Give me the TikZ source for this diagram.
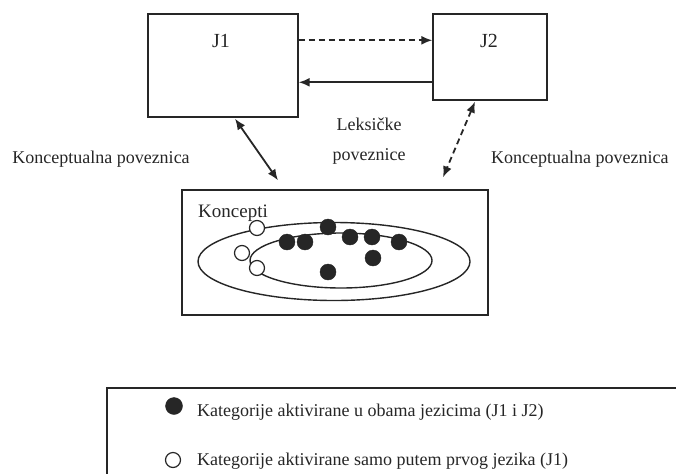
\documentclass[tikz,border=0pt]{standalone}
\usepackage{fontspec}
\setmainfont{Liberation Serif}
\usetikzlibrary{arrows.meta,calc}
\definecolor{ink}{HTML}{262626}
\tikzset{
  box/.style={draw=ink, line width=1.4pt, inner sep=0pt},
  lbl/.style={text=ink, inner sep=0pt, font=\fontsize{18}{20}\selectfont},
  big/.style={text=ink, inner sep=0pt, font=\fontsize{20}{22}\selectfont},
  link/.style={draw=ink, line width=1.8pt, -{Latex[length=11pt,width=9pt]}},
  duo/.style={draw=ink, line width=1.8pt, {Latex[length=11pt,width=9pt]}-{Latex[length=11pt,width=9pt]}},
  dlink/.style={link, dash pattern=on 6pt off 4pt},
  dduo/.style={duo, dash pattern=on 6pt off 4pt},
  bdot/.style={circle, fill=ink, draw=ink, inner sep=0pt, minimum size=16pt},
  wdot/.style={circle, fill=white, draw=ink, line width=1.2pt, inner sep=0pt, minimum size=15pt},
  ell/.style={draw=ink, line width=1.4pt}
}
\begin{document}
\begin{tikzpicture}[x=1pt,y=-1pt]
\useasboundingbox[fill=white] (0,0) rectangle (676,474);
% language boxes
\node[box, minimum width=150pt, minimum height=103pt] (J1) at (223,65.5) {};
\node[box, minimum width=114pt, minimum height=86pt] (J2) at (490,57) {};
\node[big, anchor=base] (t1) at (221,47) {J1};
\node[big, anchor=base] (t2) at (489,47) {J2};
% lexical links
\draw[dlink] ([yshift=-27pt]J1.north east) -- ([yshift=-27pt]J2.north west);
\draw[link] ([yshift=-69pt]J2.north west) -- ([yshift=-69pt]J1.north east);
% concept box
\node[box, minimum width=306pt, minimum height=125pt] (C) at (335,252.5) {};
\node[lbl, anchor=base west, font=\fontsize{19}{21}\selectfont] (ko) at (198,217) {Koncepti};
\draw[ell] (334,261.5) ellipse [x radius=136pt, y radius=39pt];
\draw[ell] (341,260.5) ellipse [x radius=91pt, y radius=27.5pt];
% conceptual links
\draw[duo] ([xshift=12pt,yshift=-1pt]J1.south) -- ([xshift=-57pt,yshift=9pt]C.north);
\draw[dduo] ([xshift=-15pt,yshift=-1pt]J2.south) -- ([xshift=108pt,yshift=12pt]C.north);
% labels
\node[lbl, anchor=base] (kl) at (101,163) {Konceptualna poveznica};
\node[lbl, anchor=base west] (kr) at (491,163) {Konceptualna poveznica};
\node[lbl, anchor=base] (le1) at (369,130) {Leksičke};
\node[lbl, anchor=base] (le2) at (369,160) {poveznice};
% dots
\node[bdot] (d1) at (328,227) {};
\node[bdot] (d2) at (287,242) {};
\node[bdot] (d3) at (305,242) {};
\node[bdot] (d4) at (350,237) {};
\node[bdot] (d5) at (372,237) {};
\node[bdot] (d6) at (399,242) {};
\node[bdot] (d7) at (373,258) {};
\node[bdot] (d8) at (328,272) {};
\node[wdot] (w1) at (257,228) {};
\node[wdot] (w2) at (242,253) {};
\node[wdot] (w3) at (257,268) {};
% legend
\draw[draw=ink, line width=1.4pt] (676,388) -- (107,388) -- (107,474);
\node[bdot, minimum size=17pt] (lb) at (174,406) {};
\node[lbl, anchor=base west] (lt1) at (197,416) {Kategorije aktivirane u obama jezicima (J1 i J2)};
\node[wdot] (lw) at (173,460) {};
\node[lbl, anchor=base west] (lt2) at (197,465) {Kategorije aktivirane samo putem prvog jezika (J1)};
\end{tikzpicture}
\end{document}
